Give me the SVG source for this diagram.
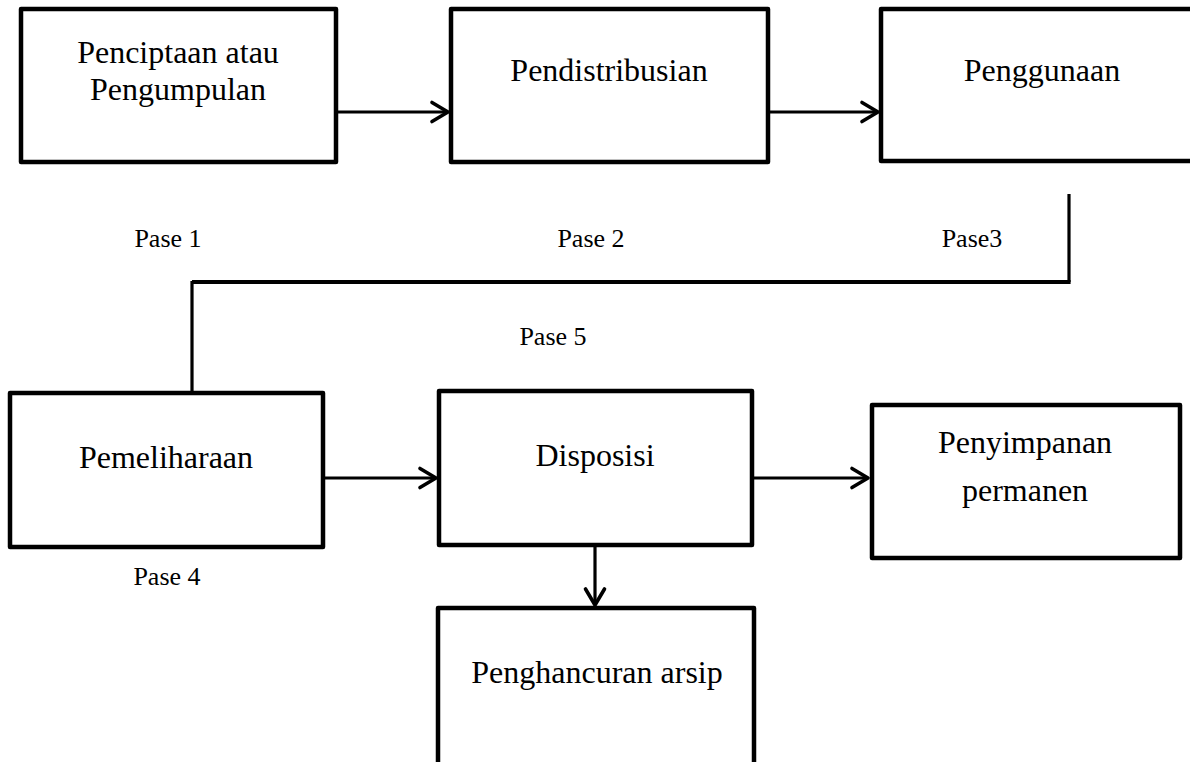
<svg xmlns="http://www.w3.org/2000/svg" width="1190" height="762" viewBox="0 0 1190 762">
<defs>
<style>
.box{fill:#fff;stroke:#000;stroke-width:4.5;stroke-linejoin:round}
.t{font-family:"Liberation Serif","Times New Roman",serif;font-size:32px;fill:#000;text-anchor:middle}
.l{font-family:"Liberation Serif","Times New Roman",serif;font-size:26px;fill:#000;text-anchor:middle}
.c{fill:none;stroke:#000;stroke-width:3.2}
.h{fill:none;stroke:#000;stroke-width:4.2}
</style>
<marker id="arr" viewBox="0 0 20 22" refX="18" refY="11" markerWidth="20" markerHeight="22" markerUnits="userSpaceOnUse" orient="auto" overflow="visible">
<path d="M2,1.5 L18,11 L2,20.5" fill="none" stroke="#000" stroke-width="3.6" stroke-linecap="round" stroke-linejoin="round"/>
</marker>
</defs>
<rect width="1190" height="762" fill="#fff"/>
<g id="connectors">
<line class="c" x1="337" y1="112" x2="448" y2="112" marker-end="url(#arr)"/>
<line class="c" x1="768" y1="112" x2="878" y2="112" marker-end="url(#arr)"/>
<polyline class="c" points="1069,194 1069,282"/>
<polyline class="h" points="1070.6,282 192,282"/>
<polyline class="c" points="192,281 192,392"/>
<line class="c" x1="324" y1="478" x2="436" y2="478" marker-end="url(#arr)"/>
<line class="c" x1="752" y1="478" x2="868" y2="478" marker-end="url(#arr)"/>
<line class="c" x1="595" y1="545" x2="595" y2="605" marker-end="url(#arr)"/>
</g>
<g id="n1"><rect class="box" x="21" y="9" width="315" height="153"/>
<text class="t" x="178" y="63">Penciptaan atau</text><text class="t" x="178" y="100">Pengumpulan</text></g>
<g id="n2"><rect class="box" x="451" y="9" width="317" height="153"/>
<text class="t" x="609" y="81">Pendistribusian</text></g>
<g id="n3"><rect class="box" x="881" y="9" width="320" height="152"/>
<text class="t" x="1042" y="81">Penggunaan</text></g>
<g id="n4"><rect class="box" x="10" y="393" width="313" height="154"/>
<text class="t" x="166" y="468">Pemeliharaan</text></g>
<g id="n5"><rect class="box" x="439" y="391" width="313" height="154"/>
<text class="t" x="595" y="466">Disposisi</text></g>
<g id="n6"><rect class="box" x="872" y="405" width="308" height="153"/>
<text class="t" x="1025" y="453">Penyimpanan</text><text class="t" x="1025" y="501">permanen</text></g>
<g id="n7"><rect class="box" x="438" y="608" width="316" height="160"/>
<text class="t" x="597" y="683">Penghancuran arsip</text></g>
<g id="labels">
<text class="l" x="168" y="247">Pase 1</text>
<text class="l" x="591" y="247">Pase 2</text>
<text class="l" x="972" y="247">Pase3</text>
<text class="l" x="553" y="345">Pase 5</text>
<text class="l" x="167" y="585">Pase 4</text>
</g>
</svg>
